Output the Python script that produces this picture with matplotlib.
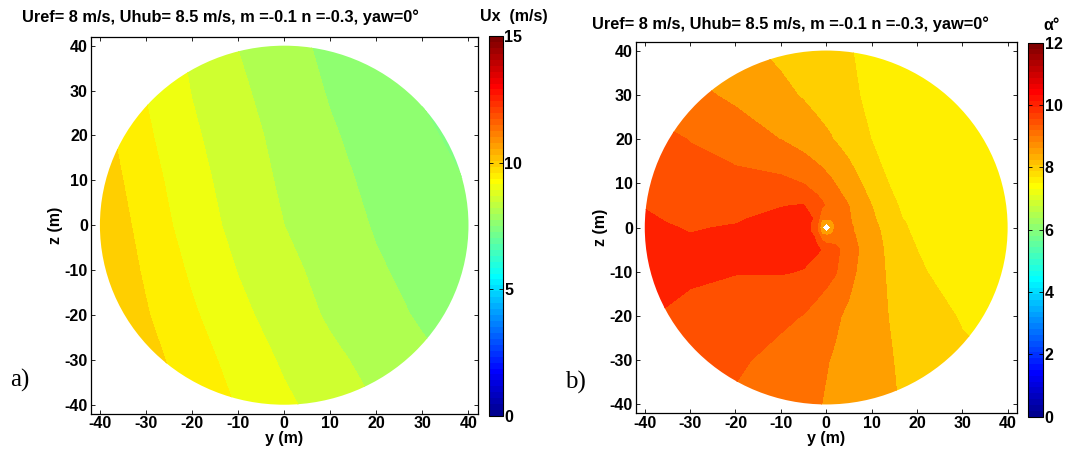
import matplotlib
matplotlib.use("Agg")
import matplotlib.pyplot as plt
import numpy as np
from matplotlib.colors import ListedColormap, Normalize
from matplotlib.patches import Circle
import matplotlib.cm as cm

plt.rcParams["font.family"] = ["Liberation Sans", "DejaVu Sans"]
plt.rcParams["font.weight"] = "bold"
plt.rcParams["axes.unicode_minus"] = False

# %% data
title_txt = "Uref= 8 m/s, Uhub= 8.5 m/s, m =-0.1 n =-0.3, yaw=0°"

# a) Ux (m/s) on a 10 m grid, rows from z=40 down to z=-40
y_a = [-40, -30, -20, -10, 0, 10, 20, 30, 40]
z_a = [40, 30, 20, 10, 0, -10, -20, -30, -40]
ux = [
    [9.97, 9.38, 8.90, 8.49, 8.17, 7.88, 7.63, 7.38, 7.13],
    [10.08, 9.48, 8.98, 8.59, 8.26, 7.96, 7.71, 7.46, 7.21],
    [10.19, 9.58, 9.08, 8.69, 8.35, 8.05, 7.81, 7.58, 7.36],
    [10.30, 9.70, 9.18, 8.77, 8.42, 8.13, 7.89, 7.68, 7.48],
    [10.41, 9.81, 9.27, 8.85, 8.50, 8.22, 7.96, 7.77, 7.58],
    [10.45, 9.93, 9.42, 8.98, 8.63, 8.33, 8.05, 7.86, 7.68],
    [10.52, 10.04, 9.57, 9.13, 8.76, 8.43, 8.17, 7.94, 7.76],
    [10.65, 10.19, 9.73, 9.31, 8.93, 8.61, 8.34, 8.09, 7.89],
    [10.77, 10.33, 9.89, 9.46, 9.09, 8.79, 8.49, 8.25, 8.00],
]
levels_a = [6.5, 7.5, 8.0, 8.5, 9.0, 9.5, 10.0, 10.5, 11.0]
min_a = 7.3   # lowest value, MATLAB fills below the first level with it
ticks_a = [0, 5, 10, 15]

# b) alpha (deg), finer near the hub, rows from z=40 down to z=-40
y_b = [-40, -30, -20, -10, -5, -2, -1, 0, 1, 2, 5, 10, 20, 30, 40]
z_b = [40, 30, 20, 10, 5, 2, 1, 0, -1, -2, -5, -10, -20, -30, -40]
alpha = [
    [9.14, 8.86, 8.64, 8.40, 8.27, 8.20, 8.17, 8.14, 8.12, 8.10, 8.02, 7.91, 7.71, 7.60, 7.55],
    [9.30, 9.12, 8.91, 8.61, 8.46, 8.35, 8.31, 8.27, 8.24, 8.20, 8.09, 7.90, 7.75, 7.57, 7.52],
    [9.72, 9.48, 9.24, 8.99, 8.78, 8.66, 8.62, 8.58, 8.53, 8.47, 8.30, 7.99, 7.80, 7.62, 7.52],
    [9.85, 9.73, 9.67, 9.62, 9.49, 9.28, 9.21, 9.14, 9.07, 8.99, 8.74, 8.31, 7.47, 7.30, 7.20],
    [9.98, 9.85, 9.85, 9.98, 10.02, 9.70, 9.59, 9.45, 9.36, 9.27, 9.00, 8.50, 7.64, 7.45, 7.30],
    [10.05, 9.90, 9.96, 10.11, 10.30, 9.85, 9.05, 9.05, 9.05, 9.10, 9.04, 8.58, 7.73, 7.55, 7.40],
    [10.08, 9.92, 9.99, 10.15, 10.40, 9.60, 8.75, 8.65, 8.75, 9.10, 9.05, 8.60, 7.81, 7.60, 7.45],
    [10.12, 9.96, 10.04, 10.20, 10.45, 9.55, 8.65, np.nan, 8.65, 9.10, 9.10, 8.63, 7.84, 7.62, 7.47],
    [10.15, 9.99, 10.08, 10.22, 10.40, 9.65, 8.75, 8.70, 8.75, 9.15, 9.10, 8.65, 7.87, 7.64, 7.50],
    [10.16, 10.04, 10.12, 10.21, 10.33, 9.90, 9.30, 9.10, 9.15, 9.30, 9.14, 8.66, 7.91, 7.66, 7.52],
    [10.20, 10.20, 10.22, 10.20, 10.12, 10.05, 9.98, 9.87, 9.76, 9.63, 9.25, 8.68, 8.00, 7.72, 7.55],
    [10.10, 10.05, 10.02, 10.03, 9.98, 9.82, 9.76, 9.69, 9.61, 9.54, 9.15, 8.67, 8.10, 7.65, 7.50],
    [10.02, 9.92, 9.74, 9.62, 9.48, 9.30, 9.23, 9.18, 9.12, 9.07, 8.91, 8.65, 8.24, 7.96, 7.80],
    [9.95, 9.90, 9.60, 9.31, 9.17, 9.08, 9.05, 9.02, 8.99, 8.95, 8.84, 8.65, 8.34, 8.09, 7.95],
    [9.80, 9.63, 9.41, 9.20, 9.09, 9.02, 9.00, 8.97, 8.94, 8.91, 8.81, 8.65, 8.39, 8.19, 8.00],
]
levels_b = [6.5, 8.0, 8.5, 9.0, 9.5, 10.0, 10.5]
min_b = 7.6
ticks_b = [0, 2, 4, 6, 8, 10, 12]

radius = 40


def matlab_jet(m=64):
    # same construction as MATLAB's jet(m)
    n = int(np.ceil(m / 4))
    u = np.r_[np.arange(1, n + 1) / n, np.ones(n - 1), np.arange(n, 0, -1) / n]
    g = int(np.ceil(n / 2)) - (1 if m % 4 == 1 else 0) + np.arange(1, len(u) + 1)
    r = g + n
    b = g - n
    J = np.zeros((m, 3))
    J[r[r <= m] - 1, 0] = u[r <= m]
    J[g[g <= m] - 1, 1] = u[g <= m]
    J[b[b >= 1] - 1, 2] = u[b >= 1]
    return J


jet64 = matlab_jet(64)
cmap = ListedColormap(jet64)
FS = 11.5


def panel(ax, cax, y, z, vals, levels, vmin_fill, vmax, ticks, unit, title_xy, unit_xy, tag_xy):
    Y, Z = np.meshgrid(y, z)
    V = np.ma.masked_invalid(np.array(vals, dtype=float))
    # MATLAB colours a band with the colour of its lower level
    cols = [jet64[min(int(max(lv, vmin_fill) / vmax * 64), 63)] for lv in levels[:-1]]
    cs = ax.contourf(Y, Z, V, levels=levels, colors=cols, antialiased=False)
    cs.set_clip_path(Circle((0, 0), radius, transform=ax.transData))

    ax.set_xlim(-42, 42)
    ax.set_ylim(-42, 42)
    ax.set_xticks(range(-40, 41, 10))
    ax.set_yticks(range(-40, 41, 10))
    ax.tick_params(direction="in", top=True, right=True, length=3, width=0.6,
                   labelsize=FS, pad=2)
    for s in ax.spines.values():
        s.set_linewidth(0.9)
    ax.set_xlabel("y (m)", fontsize=FS, fontweight="bold", labelpad=0)
    ax.set_ylabel("z (m)", fontsize=FS, fontweight="bold", labelpad=1)

    sm = cm.ScalarMappable(norm=Normalize(0, vmax), cmap=cmap)
    cb = fig.colorbar(sm, cax=cax, ticks=ticks)
    cb.outline.set_linewidth(0.8)
    cax.tick_params(direction="in", left=True, right=True, length=3, width=0.6,
                    labelsize=FS, pad=1)

    fig.text(title_xy[0] / W, 1 - title_xy[1] / H, title_txt, ha="center", va="center",
             fontsize=11.8, fontweight="bold")
    fig.text(unit_xy[0] / W, 1 - unit_xy[1] / H, unit, ha="center", va="center",
             fontsize=FS, fontweight="bold")
    fig.text(tag_xy[0] / W, 1 - tag_xy[1] / H, tag_xy[2], ha="center", va="center",
             fontsize=18, fontweight="normal", family="Liberation Serif")


W, H = 1068, 455
fig = plt.figure(figsize=(W / 100, H / 100), dpi=100)


def box(x0, y0, x1, y1):
    return [x0 / W, 1 - y1 / H, (x1 - x0) / W, (y1 - y0) / H]


ax_a = fig.add_axes(box(90.7, 36.7, 477.7, 413.7))
cax_a = fig.add_axes(box(489, 36, 502.7, 416))
ax_b = fig.add_axes(box(635.7, 41.7, 1016.7, 413.3))
cax_b = fig.add_axes(box(1028.3, 42.7, 1043.3, 416.7))

panel(ax_a, cax_a, y_a, z_a, ux, levels_a, min_a, 15, ticks_a, "Ux  (m/s)",
      (220, 17), (514, 17), (20, 380, "a)"))
panel(ax_b, cax_b, y_b, z_b, alpha, levels_b, min_b, 12, ticks_b, "α°",
      (790, 24), (1052, 25), (575, 382, "b)"))

fig.savefig("out.png", dpi=100)
